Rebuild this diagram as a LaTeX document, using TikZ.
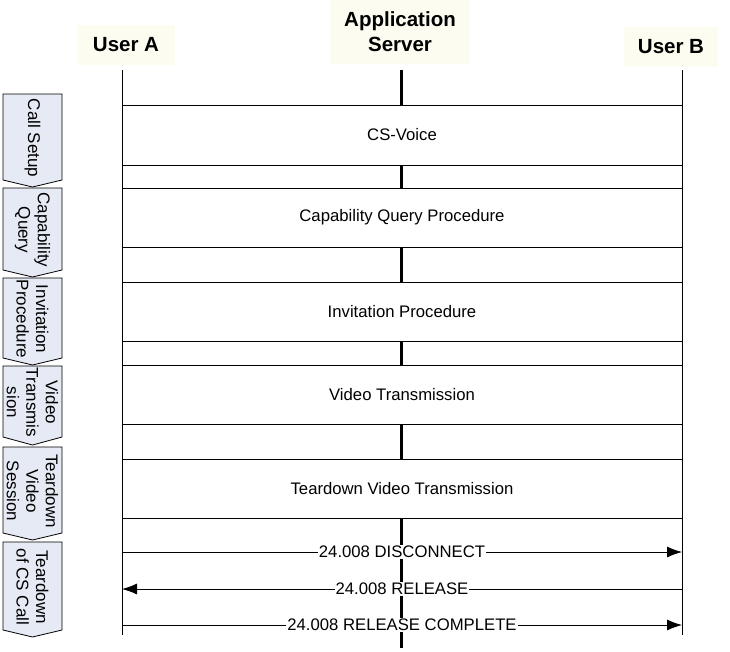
\documentclass[tikz,border=0pt]{standalone}
\usepackage{fontspec}
\setmainfont{Liberation Sans}
\usetikzlibrary{arrows.meta}
\definecolor{phasefill}{RGB}{230,234,244}
\definecolor{hdrbg}{RGB}{252,252,240}
\begin{document}
\begin{tikzpicture}[x=1pt,y=-1pt,
  hdr/.style={font=\fontsize{20.5}{25}\selectfont\bfseries, align=center, fill=hdrbg, inner sep=0pt},
  life/.style={line width=0.8pt},
  srvlife/.style={line width=3pt},
  proc/.style={draw, line width=0.8pt, fill=white, minimum width=560pt, font=\fontsize{16.7}{19}\selectfont, inner sep=0pt},
  msg/.style={line width=0.8pt, -{Latex[length=15pt,width=11pt]}},
  lbl/.style={font=\fontsize{16.7}{19}\selectfont, fill=white, inner sep=1pt},
  phase/.style={draw, line width=0.8pt, fill=phasefill},
  phasetxt/.style={font=\fontsize{17}{19.5}\selectfont, rotate=-90, align=center, inner sep=0pt}
]
\useasboundingbox (0,0) rectangle (730,651);

% headers
\node[hdr, minimum width=98pt, minimum height=40pt] (ua) at (126,45) {User A};
\node[hdr, minimum width=140pt, minimum height=64pt] (as) at (400,32) {Application\\Server};
\node[hdr, minimum width=94pt, minimum height=40pt] (ub) at (671,47) {User B};

% lifelines
\coordinate (aTop) at (122,70);  \coordinate (aBot) at (122,635);
\coordinate (sTop) at (401,70);  \coordinate (sBot) at (401,648);
\coordinate (bTop) at (682,70);  \coordinate (bBot) at (682,635);
\draw[life] (aTop) -- (aBot);
\draw[srvlife] (sTop) -- (sBot);
\draw[life] (bTop) -- (bBot);

% procedure boxes
\node[proc, minimum height=60pt] (p1) at (402,135) {CS-Voice};
\node[proc, minimum height=59pt] (p2) at (402,217.5) {Capability Query Procedure};
\node[proc, minimum height=59pt] (p3) at (402,311.5) {Invitation Procedure};
\node[proc, minimum height=59pt] (p4) at (402,394.5) {Video Transmission};
\node[proc, minimum height=59pt] (p5) at (402,488.5) {Teardown Video Transmission};

% messages
\coordinate (a1) at (122,552); \coordinate (b1) at (682,552);
\coordinate (a2) at (122,589); \coordinate (b2) at (682,589);
\coordinate (a3) at (122,625); \coordinate (b3) at (682,625);
\draw[msg] (a1) -- node[lbl] (m1) {24.008 DISCONNECT} (b1);
\draw[msg] (b2) -- node[lbl] (m2) {24.008 RELEASE} (a2);
\draw[msg] (a3) -- node[lbl] (m3) {24.008 RELEASE COMPLETE} (b3);

% phases
\newcommand\phaseshape[5]{%
  \draw[phase] (3,#1) -- (62,#1) -- (62,#2) -- (32.5,#3) -- (3,#2) -- cycle;
  \node[phasetxt] (#5) at (32.5,{(#1+#2)/2+1}) {#4};}
\phaseshape{94}{180}{187}{Call Setup}{ph1}
\phaseshape{188}{270}{277}{Capability\\Query}{ph2}
\phaseshape{278}{358}{365}{Invitation\\Procedure}{ph3}
\phaseshape{366}{437}{445}{Video\\Transmis\\sion}{ph4}
\phaseshape{447}{533}{540}{Teardown\\Video\\Session}{ph5}
\phaseshape{542}{630}{637}{Teardown\\of CS Call}{ph6}
\end{tikzpicture}
\end{document}
